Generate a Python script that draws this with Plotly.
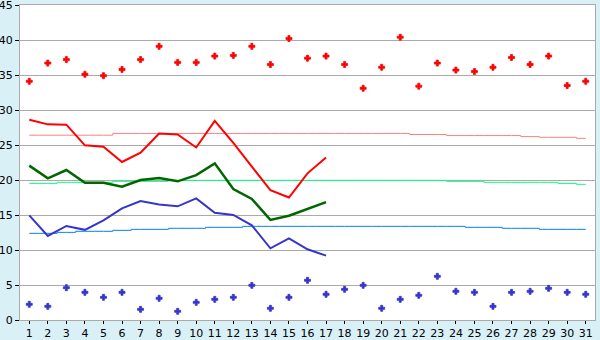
import plotly.graph_objects as go

days = list(range(1, 32))

max_temp = [34.1, 36.7, 37.2, 35.1, 34.9, 35.8, 37.2, 39.1, 36.8, 36.8,
            37.7, 37.8, 39.1, 36.5, 40.2, 37.4, 37.7, 36.5, 33.1, 36.1,
            40.4, 33.4, 36.7, 35.7, 35.5, 36.1, 37.5, 36.5, 37.7, 33.5, 34.1]
min_temp = [2.24, 1.95, 4.62, 3.95, 3.24, 3.95, 1.52, 3.1, 1.24, 2.52,
            2.95, 3.24, 4.95, 1.67, 3.24, 5.67, 3.67, 4.38, 4.95, 1.67,
            2.95, 3.52, 6.24, 4.1, 3.95, 1.95, 3.95, 4.1, 4.52, 3.95, 3.67]

line_days = list(range(1, 18))
red_line = [28.6, 27.95, 27.9, 24.95, 24.75, 22.57, 23.9, 26.65, 26.5, 24.65,
            28.45, 25.3, 21.9, 18.55, 17.5, 20.95, 23.2]
green_line = [22.05, 20.24, 21.43, 19.62, 19.6, 19.05, 20.0, 20.3, 19.81, 20.7,
              22.38, 18.7, 17.3, 14.3, 14.9, 15.85, 16.85]
blue_line = [14.95, 12.0, 13.43, 12.88, 14.24, 15.95, 17.0, 16.5, 16.24, 17.38,
             15.33, 15.0, 13.52, 10.24, 11.67, 10.1, 9.19]

pink_norm = [26.4] * 5 + [26.65] * 16 + [26.5] * 2 + [26.35] * 4 + [26.2] + [26.1] * 2 + [25.95]
green_norm = [19.52] * 2 + [19.67] * 3 + [19.81] * 3 + [19.95] * 15 + [19.81] * 2 + [19.67] * 4 + [19.52] + [19.38]
blue_norm = [12.38] * 2 + [12.52] + [12.67] * 2 + [12.81] + [12.95] * 2 + [13.1] * 2 + [13.24] * 2 + [13.38] * 12 + [13.24] * 2 + [13.1] * 2 + [12.95] * 3

fig = go.Figure()

fig.add_trace(go.Scatter(x=days, y=pink_norm, mode="lines", line=dict(color="#ff8080", width=1, shape="hvh")))
fig.add_trace(go.Scatter(x=days, y=green_norm, mode="lines", line=dict(color="#00ff80", width=1, shape="hvh")))
fig.add_trace(go.Scatter(x=days, y=blue_norm, mode="lines", line=dict(color="#0080ff", width=1, shape="hvh")))

fig.add_trace(go.Scatter(x=line_days, y=red_line, mode="lines", line=dict(color="#ff0000", width=2)))
fig.add_trace(go.Scatter(x=line_days, y=green_line, mode="lines", line=dict(color="#006600", width=2.5)))
fig.add_trace(go.Scatter(x=line_days, y=blue_line, mode="lines", line=dict(color="#3535cc", width=2)))

fig.add_trace(go.Scatter(x=days, y=max_temp, mode="markers",
                         marker=dict(symbol="cross", size=5, color="#ff0000",
                                     line=dict(width=0.8, color="#ff0000"))))
fig.add_trace(go.Scatter(x=days, y=min_temp, mode="markers",
                         marker=dict(symbol="cross", size=5, color="#3535cc",
                                     line=dict(width=0.8, color="#3535cc"))))

fig.update_layout(
    width=600, height=340,
    margin=dict(l=20, r=5, t=5, b=20, autoexpand=False),
    paper_bgcolor="#d9f0f7",
    plot_bgcolor="#ffffff",
    showlegend=False,
    font=dict(family="DejaVu Sans", size=11, color="#000000"),
)
fig.update_xaxes(
    range=[0.5, 31.5], tickmode="array", tickvals=days, ticktext=[str(d) for d in days],
    showgrid=False, zeroline=False, showline=True, linecolor="#aaaaaa", linewidth=1,
    mirror=True, ticks="outside", ticklen=3, tickcolor="#000000", tickwidth=1,
    tickfont=dict(size=11), automargin=False, ticklabeloverflow="allow",
)
fig.update_yaxes(
    range=[0, 45], tickmode="array", tickvals=list(range(0, 46, 5)),
    showgrid=True, gridcolor="#aaaaaa", gridwidth=1, zeroline=False,
    showline=True, linecolor="#aaaaaa", linewidth=1, mirror=True,
    ticks="outside", ticklen=4, tickcolor="#000000", tickwidth=1,
    tickfont=dict(size=11), automargin=False, ticklabeloverflow="allow",
)

fig.write_html("out.html")
